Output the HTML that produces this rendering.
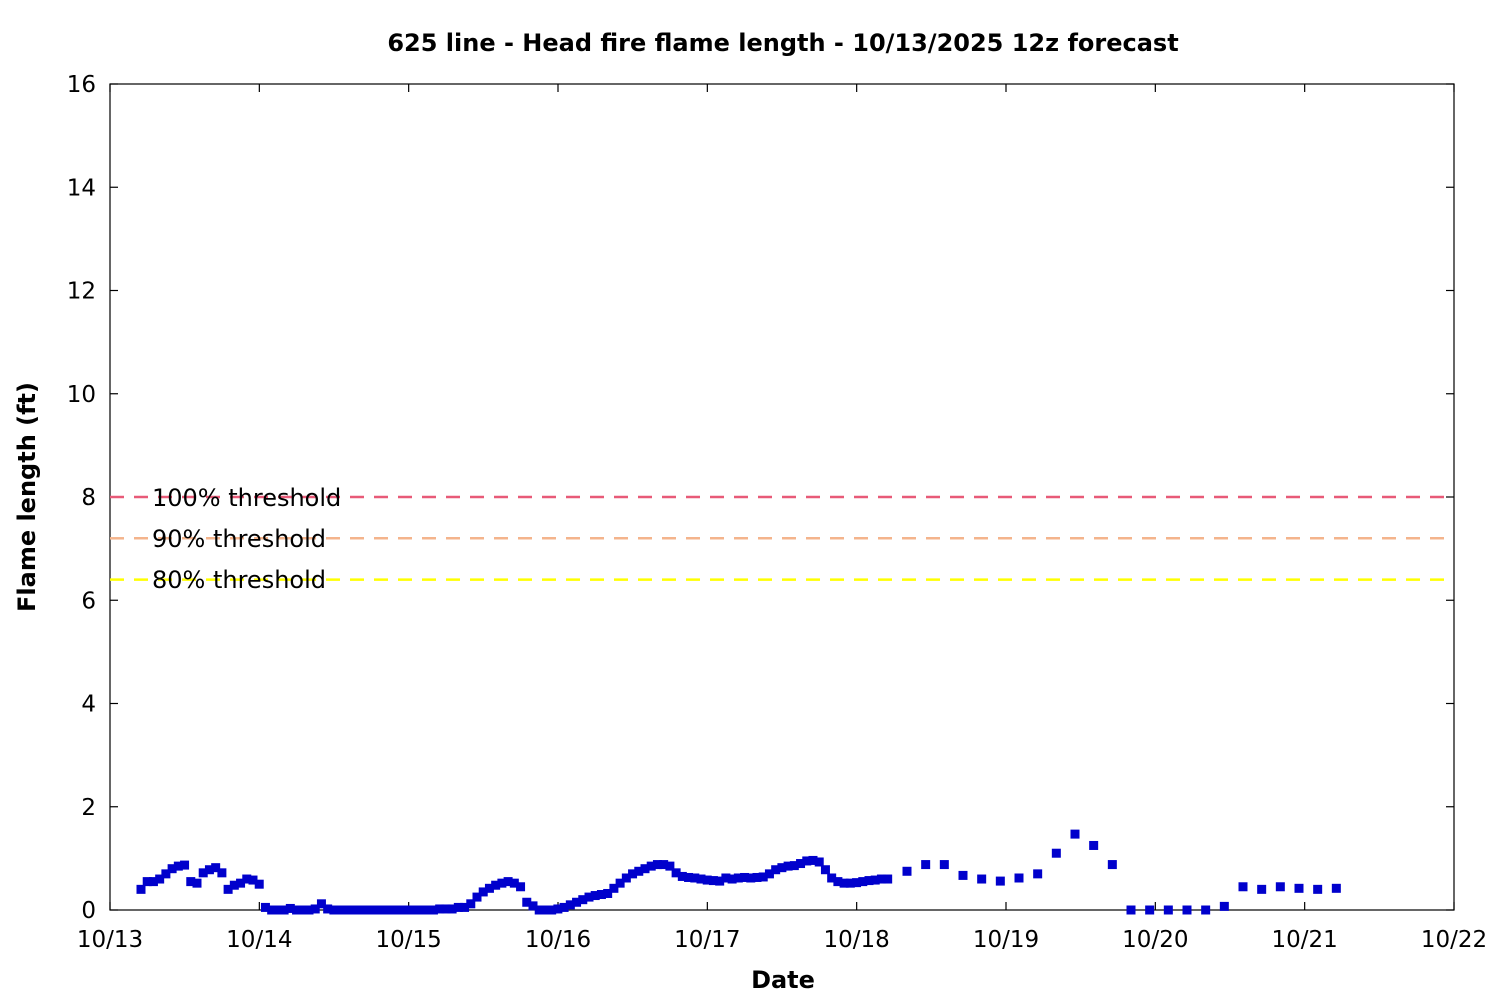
<!DOCTYPE html>
<html><head><meta charset="utf-8"><style>body{margin:0;background:#fff}svg{display:block}</style></head>
<body>
<svg id="s" width="1500" height="1000" xmlns="http://www.w3.org/2000/svg" font-family="DejaVu Sans, Liberation Sans, sans-serif">
<rect width="1500" height="1000" fill="#fff"/>
<text x="783" y="51" font-size="24" font-weight="bold" text-anchor="middle">625 line - Head fire flame length - 10/13/2025 12z forecast</text>
<text x="783" y="988" font-size="24" font-weight="bold" text-anchor="middle">Date</text>
<text transform="translate(35,497) rotate(-90)" font-size="24" font-weight="bold" text-anchor="middle">Flame length (ft)</text>
<g id="ax" stroke="#000" stroke-width="1.2" fill="none"></g>
<g id="lab" font-size="23"></g>
<g stroke-width="2.5" stroke-dasharray="14,10">
<line x1="110" x2="1454" y1="497" y2="497" stroke="#e85a78"/>
<line x1="110" x2="1454" y1="538.3" y2="538.3" stroke="#f4b48c"/>
<line x1="110" x2="1454" y1="579.6" y2="579.6" stroke="#ffff00"/>
</g>
<g font-size="24">
<text x="152" y="506">100% threshold</text>
<text x="152" y="547">90% threshold</text>
<text x="152" y="588">80% threshold</text>
</g>
<g id="pts" fill="#0000cc"></g>
</svg>
<script>
var ns="http://www.w3.org/2000/svg";
function el(p,t,a,txt){var e=document.createElementNS(ns,t);for(var k in a)e.setAttribute(k,a[k]);if(txt)e.textContent=txt;document.getElementById(p).appendChild(e);}
var X0=110,X1=1454,Y0=910,Y1=84;
function yv(v){return Y0-(v/16)*(Y0-Y1);}
el("ax","rect",{x:X0,y:Y1,width:X1-X0,height:Y0-Y1});
for(var v=0;v<=16;v+=2){var y=yv(v);
 el("ax","line",{x1:X0,x2:X0+8,y1:y,y2:y});el("ax","line",{x1:X1,x2:X1-8,y1:y,y2:y});
 el("lab","text",{x:96,y:y+8,"text-anchor":"end"},String(v));}
for(var d=0;d<=9;d++){var x=X0+d*(X1-X0)/9;
 el("ax","line",{x1:x,x2:x,y1:Y0,y2:Y0-8});el("ax","line",{x1:x,x2:x,y1:Y1,y2:Y1+8});
 el("lab","text",{x:x,y:947,"text-anchor":"middle"},"10/"+(13+d));}
var h=[0.4,0.55,0.55,0.6,0.7,0.8,0.85,0.87,0.55,0.52,0.72,0.78,0.82,0.72,0.4,0.48,0.52,0.6,0.58,0.5,0.05,0,0,0,0.03,0,0,0,0.02,0.12,0.02];
for(var i=31;i<=47;i++)h.push(0);
h=h.concat([0.02,0.02,0.02,0.05,0.05,0.12,0.25,0.35,0.42,0.48,0.52,0.55,0.52,0.45,0.15,0.08,0,0,0,0.02,0.05,0.1,0.15,0.2,0.25,0.28,0.3,0.32,0.42,0.52,0.62,0.7,0.75,0.8,0.85,0.88,0.88,0.85,0.72,0.65,0.63,0.62,0.6,0.58,0.57,0.56,0.62,0.6,0.62,0.63,0.62,0.63,0.64,0.7,0.78,0.82,0.85,0.86,0.9,0.95,0.96,0.93,0.78,0.62,0.55,0.52,0.52,0.53,0.55,0.57,0.58,0.6,0.6]);
var dx=(X1-X0)/9/24;
for(var i=0;i<h.length;i++){el("pts","rect",{x:141+i*dx-4.5,y:yv(h[i])-4.5,width:9,height:9});}
var t=[0.75,0.88,0.88,0.67,0.6,0.56,0.62,0.7,1.1,1.47,1.25,0.88,0,0,0,0,0,0.07,0.45,0.4,0.45,0.42,0.4,0.42];
for(var j=0;j<t.length;j++){el("pts","rect",{x:907+j*3*dx-4.5,y:yv(t[j])-4.5,width:9,height:9});}
</script>
</body></html>
